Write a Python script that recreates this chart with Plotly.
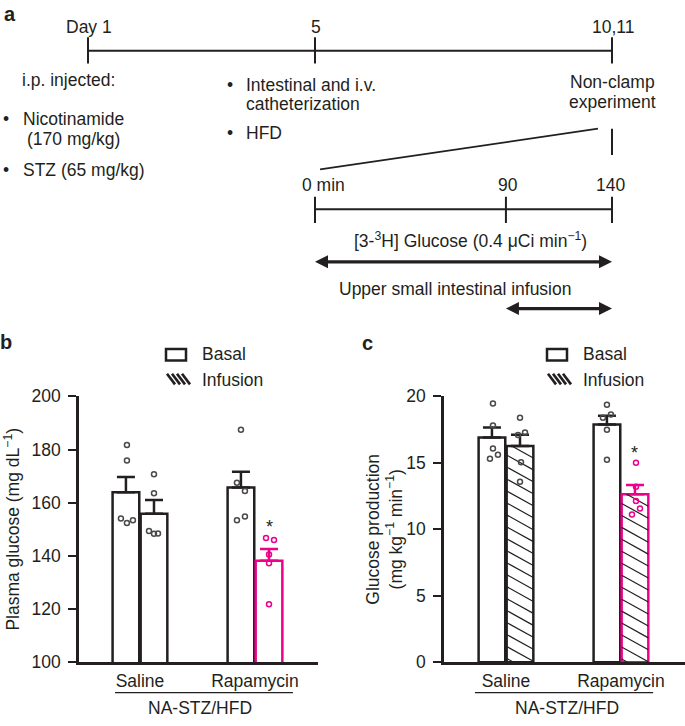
import plotly.graph_objects as go

W, H = 685, 726
INK = "#231f20"
PINK = "#ec008c"
DOT = "#4a4a4a"
FONT = "Liberation Sans, Arial, sans-serif"
FS = 17.5

# ---------------------------------------------------------------------------
# Data
# ---------------------------------------------------------------------------

# panel a: protocol timeline
DAY_LABELS = ["Day 1", "5", "10,11"]
DAY_X = [-107, 0, 140]  # schematic placement on the minute scale
MIN_TICKS = [0, 90, 140]
MIN_LABELS = ["0 min", "90", "140"]
TRACER_SPAN = [0, 140]
INFUSION_SPAN = [90, 140]

# panels b and c
GROUPS = ["Saline", "Rapamycin"]

GLU_BASAL = [163.9, 165.7]
GLU_BASAL_SEM = [5.8, 5.9]
GLU_INF = [155.8, 138.2]
GLU_INF_SEM = [5.2, 4.4]
GLU_BASAL_PTS = [[181.7, 175.9, 154.1, 152.4, 153.4],
                 [187.4, 167.5, 164.4, 153.4, 154.8]]
GLU_INF_PTS = [[170.7, 163.6, 149.4, 148.3, 148.4],
               [146.7, 146.0, 140.5, 137.2, 121.8]]

GP_BASAL = [16.9, 17.88]
GP_BASAL_SEM = [0.76, 0.66]
GP_INF = [16.27, 12.63]
GP_INF_SEM = [0.85, 0.71]
GP_BASAL_PTS = [[19.46, 17.8, 16.07, 15.6, 15.3],
                [19.36, 18.39, 18.63, 17.48, 15.24]]
GP_INF_PTS = [[18.39, 17.29, 17.1, 15.05, 13.58],
              [15.0, 13.2, 12.12, 11.56, 11.12]]

# ---------------------------------------------------------------------------
# Layout helpers
# ---------------------------------------------------------------------------

GROUP_PX = 115.0   # pixels between the two groups
OFF = 0.122
BAR_W = 0.232

# horizontal jitter of the dots, in pixels
JIT_B_BASAL = [[1, 1, -5, 1, 7], [0, -4, 4, -4, 4]]
JIT_B_INF = [[0, 0, -5, 0, 4], [-3, 5, 0, 0, 0]]
JIT_C_BASAL = [[1, 1, 1, 6, -2], [0, -4, 4, 0, 0]]
JIT_C_INF = [[0, 5, -2, 1, 0], [1, 1, 1, 5, -3]]


def px(x):
    return x / W


def py(y):
    return 1 - y / H


fig = go.Figure()
annotations = []
shapes = []


def hatch(xc, top, ypx, slope=0.57, step_px=12.3):
    """Diagonal hatch segments clipped to a bar (data units)."""
    m = slope * GROUP_PX / ypx
    step = step_px / ypx
    xl = xc - BAR_W / 2
    xs, ys = [], []
    c = top + m * BAR_W
    while c > 0:
        x0 = xl + max(0.0, (c - top) / m)
        x1 = xl + min(BAR_W, c / m)
        if x1 > x0:
            xs += [x0, x1, None]
            ys += [c - m * (x0 - xl), c - m * (x1 - xl), None]
        c -= step
    return xs, ys


def add_panel(xa, ya, ypx, basal, basal_sem, inf, inf_sem, basal_pts, inf_pts,
              jit_b, jit_i, hatched):
    for gi, grp in enumerate(GROUPS):
        for cond, means, sems, pts, jit, off in [
            ("Basal", basal, basal_sem, basal_pts, jit_b, -OFF),
            ("Infusion", inf, inf_sem, inf_pts, jit_i, OFF),
        ]:
            pink = cond == "Infusion" and grp == "Rapamycin"
            col = PINK if pink else INK
            fig.add_trace(go.Bar(
                x=[gi + off], y=[means[gi]], width=BAR_W,
                marker=dict(color="white", line=dict(color=col, width=2.5)),
                error_y=dict(type="data", symmetric=False, array=[sems[gi]],
                             arrayminus=[0], color=col, thickness=2.5, width=9),
                xaxis=xa, yaxis=ya, showlegend=False,
            ))
            if hatched and cond == "Infusion":
                hx, hy = hatch(gi + off, means[gi], ypx)
                fig.add_trace(go.Scatter(x=hx, y=hy, mode="lines",
                                         line=dict(color=INK, width=1.2),
                                         xaxis=xa, yaxis=ya, showlegend=False,
                                         hoverinfo="skip"))
            fig.add_trace(go.Scatter(
                x=[gi + off + j / GROUP_PX for j in jit[gi]], y=pts[gi],
                mode="markers",
                marker=dict(symbol="circle-open", size=5,
                            color=PINK if pink else DOT,
                            line=dict(width=1.5, color=PINK if pink else DOT)),
                xaxis=xa, yaxis=ya, showlegend=False,
            ))


add_panel("x", "y", 2.734, GLU_BASAL, GLU_BASAL_SEM, GLU_INF, GLU_INF_SEM,
          GLU_BASAL_PTS, GLU_INF_PTS, JIT_B_BASAL, JIT_B_INF, hatched=False)
add_panel("x2", "y2", 13.67, GP_BASAL, GP_BASAL_SEM, GP_INF, GP_INF_SEM,
          GP_BASAL_PTS, GP_INF_PTS, JIT_C_BASAL, JIT_C_INF, hatched=True)


def text(x, y, s, anchor="center", size=FS, bold=False):
    annotations.append(dict(
        x=px(x), y=py(y), xref="paper", yref="paper",
        text=f"<b>{s}</b>" if bold else s, align=anchor,
        showarrow=False, xanchor=anchor, yanchor="middle",
        font=dict(family=FONT, size=size, color=INK),
    ))


# legends (drawn by hand: box + hatched swatch)
for lx in [166, 547]:
    shapes.append(dict(type="rect", xref="paper", yref="paper",
                       x0=px(lx), x1=px(lx + 20), y0=py(360.5), y1=py(348.5),
                       line=dict(color=INK, width=2.5), fillcolor="white"))
    for k in range(4):
        x0 = lx + 1 + 5 * k
        shapes.append(dict(type="line", xref="paper", yref="paper",
                           x0=px(x0), x1=px(x0 + 8), y0=py(374), y1=py(385),
                           line=dict(color=INK, width=2.6)))
    text(lx + 34, 354, "Basal", "left")
    text(lx + 34, 380, "Infusion", "left")

# ---------------------------------------------------------------------------
# Panel a timeline (x3 = minutes, y3 = pixel rows of the top strip)
# ---------------------------------------------------------------------------


def seg_trace(xs, ys, width=2.0):
    fig.add_trace(go.Scatter(x=xs, y=ys, mode="lines", line=dict(color=INK, width=width),
                             xaxis="x3", yaxis="y3", showlegend=False, hoverinfo="skip"))


seg_trace([DAY_X[0], DAY_X[-1]], [42, 42])
tx, ty = [], []
for d in DAY_X:
    tx += [d, d, None]
    ty += [28, 55, None]
seg_trace(tx, ty)
seg_trace([2.4, 133.4], [164, 122], width=1.8)
seg_trace([DAY_X[-1], DAY_X[-1]], [122, 149])
seg_trace([MIN_TICKS[0], MIN_TICKS[-1]], [205, 205])
tx, ty = [], []
for m in MIN_TICKS:
    tx += [m, m, None]
    ty += [192, 219, None]
seg_trace(tx, ty)

# double-headed arrows
for span, yrow in [(TRACER_SPAN, 259), (INFUSION_SPAN, 307)]:
    seg_trace([span[0] + 2, span[1] - 2], [yrow, yrow], width=3.2)
    fig.add_trace(go.Scatter(
        x=span, y=[yrow, yrow], mode="markers",
        marker=dict(symbol=["arrow-left", "arrow-right"], size=13, color=INK,
                    line=dict(width=0)),
        xaxis="x3", yaxis="y3", showlegend=False, hoverinfo="skip"))

for lab, xpix in zip(DAY_LABELS, [89, 316, 613]):
    text(xpix, 17, lab)
text(20, 72, "i.p. injected:", "left")
text(6, 112, "•")
text(21, 112, "Nicotinamide", "left")
text(25, 133, "(170 mg/kg)", "left")
text(6, 165, "•")
text(21, 165, "STZ (65 mg/kg)", "left")
text(230, 77, "•")
text(244, 77, "Intestinal and i.v.", "left")
text(244, 97, "catheterization", "left")
text(230, 126, "•")
text(244, 126, "HFD", "left")
text(612, 74, "Non-clamp")
text(612, 95, "experiment")
for lab, xpix in zip(MIN_LABELS, [323, 508, 610]):
    text(xpix, 180, lab)
text(470, 237, "[3-<sup>3</sup>H] Glucose (0.4 μCi min<sup>−1</sup>)")
text(455, 287, "Upper small intestinal infusion")

# panel letters
text(10, 4, "a", size=20, bold=True)
text(6, 341, "b", size=20, bold=True)
text(367, 342, "c", size=20, bold=True)

# significance stars
annotations.append(dict(x=1 + OFF, y=150.8, xref="x", yref="y", text="*", showarrow=False,
                        font=dict(family=FONT, size=18, color=INK)))
annotations.append(dict(x=1 + OFF, y=15.75, xref="x2", yref="y2", text="*", showarrow=False,
                        font=dict(family=FONT, size=18, color=INK)))

# group brackets
for xa, x0, x1, xc in [("x", -0.217, 1.33, 0.52), ("x2", -0.27, 1.28, 0.53)]:
    shapes.append(dict(type="line", xref=xa, yref="paper", x0=x0, x1=x1,
                       y0=py(702), y1=py(702), line=dict(color=INK, width=1.2)))
    annotations.append(dict(x=xc, y=py(718), xref=xa, yref="paper", text="NA-STZ/HFD",
                            showarrow=False, yanchor="middle",
                            font=dict(family=FONT, size=FS, color=INK)))

# ---------------------------------------------------------------------------
# Axes
# ---------------------------------------------------------------------------
ydom = [py(670.7), py(397.3)]
common_x = dict(showline=True, linecolor=INK, linewidth=2.5, ticks="", showgrid=False,
                zeroline=False, tickvals=[0, 1], ticktext=GROUPS, ticklabelstandoff=1,
                tickfont=dict(family=FONT, size=FS, color=INK))
common_y = dict(showline=True, linecolor=INK, linewidth=2.5, ticks="outside", ticklen=8,
                tickwidth=2, tickcolor=INK, showgrid=False, zeroline=False,
                tickfont=dict(family=FONT, size=FS, color=INK), ticklabelstandoff=4)

fig.update_layout(
    width=W, height=H, margin=dict(l=0, r=0, t=0, b=0),
    paper_bgcolor="white", plot_bgcolor="rgba(0,0,0,0)",
    barmode="overlay", showlegend=False, font=dict(family=FONT, size=FS, color=INK),
    xaxis=dict(domain=[px(79), px(318)], range=[-0.53, 1.548], anchor="y", **common_x),
    yaxis=dict(domain=ydom, range=[100, 200], tickvals=list(range(100, 201, 20)), anchor="x",
               title=dict(text="Plasma glucose (mg dL<sup>−1</sup>)", standoff=8,
                          font=dict(family=FONT, size=FS, color=INK)), **common_y),
    xaxis2=dict(domain=[px(444), 1.0], range=[-0.539, 1.557], anchor="y2", **common_x),
    yaxis2=dict(domain=ydom, range=[0, 20], tickvals=[0, 5, 10, 15, 20], anchor="x2",
                title=dict(text="Glucose production<br>(mg kg<sup>−1</sup> min<sup>−1</sup>)",
                           standoff=0, font=dict(family=FONT, size=FS, color=INK)),
                **common_y),
    xaxis3=dict(domain=[0, 1], range=[-315 / 2.1214, 370 / 2.1214], visible=False,
                anchor="y3", fixedrange=True),
    yaxis3=dict(domain=[py(320), 1], range=[320, 0], visible=False, anchor="x3",
                fixedrange=True),
    annotations=annotations,
    shapes=shapes,
)

fig.write_html("out.html", config={"displayModeBar": False},
               post_script="document.body.style.margin='0px';")
